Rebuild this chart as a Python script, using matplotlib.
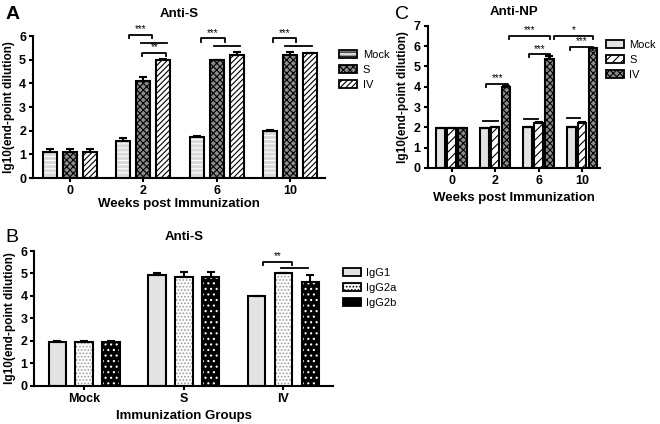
import matplotlib
matplotlib.use("Agg")
import matplotlib.pyplot as plt
from matplotlib.patches import Patch
import numpy as np

plt.rcParams['font.family'] = ['Liberation Sans', 'DejaVu Sans']
plt.rcParams['hatch.linewidth'] = 0.8

# ---- data ----
weeks = ["0", "2", "6", "10"]
a_mock = [1.1, 1.58, 1.75, 1.97]
a_mock_err = [0.12, 0.13, 0.03, 0.04]
a_s = [1.1, 4.12, 5.0, 5.22]
a_s_err = [0.12, 0.15, 0.0, 0.1]
a_iv = [1.1, 4.98, 5.22, 5.3]
a_iv_err = [0.12, 0.03, 0.1, 0.0]

c_mock = [1.95, 1.95, 2.0, 2.0]
c_mock_err = [0.02, 0.02, 0.02, 0.02]
c_s = [1.95, 2.0, 2.22, 2.22]
c_s_err = [0.02, 0.02, 0.06, 0.05]
c_iv = [1.95, 4.0, 5.35, 5.9]
c_iv_err = [0.02, 0.02, 0.15, 0.02]

groups_b = ["Mock", "S", "IV"]
b_igg1 = [1.95, 4.92, 4.0]
b_igg1_err = [0.06, 0.1, 0.0]
b_igg2a = [1.95, 4.85, 5.0]
b_igg2a_err = [0.05, 0.22, 0.0]
b_igg2b = [1.95, 4.85, 4.6]
b_igg2b_err = [0.05, 0.22, 0.35]

fig = plt.figure(figsize=(6.6, 4.24), dpi=100)
axA = fig.add_axes([0.05, 0.58, 0.442, 0.335])
axC = fig.add_axes([0.648, 0.604, 0.261, 0.335])
axB = fig.add_axes([0.052, 0.09, 0.453, 0.318])


def style(ax, ymax, labels, xlim):
    ax.set_ylim(0, ymax)
    ax.set_xlim(*xlim)
    ax.set_yticks(range(ymax + 1))
    ax.set_xticks(range(len(labels)))
    ax.set_xticklabels(labels)
    for s in ['top', 'right']:
        ax.spines[s].set_visible(False)
    ax.spines['left'].set_linewidth(1.5)
    ax.spines['bottom'].set_linewidth(1.5)
    ax.tick_params(width=1.5, length=3, labelsize=9, pad=2)
    for t in ax.get_xticklabels() + ax.get_yticklabels():
        t.set_fontweight('bold')
    ax.set_ylabel("lg10(end-point dilution)", fontsize=8.5, fontweight='bold', labelpad=3)


def bars(ax, x, vals, errs, fc, hatch, hcolor='black', w=0.19):
    if hcolor != 'black':
        ax.bar(x, vals, w, color=fc, edgecolor=hcolor, hatch=hatch, linewidth=0, zorder=2)
        ax.bar(x, vals, w, color='none', edgecolor='black', linewidth=1.5, zorder=3)
    else:
        ax.bar(x, vals, w, color=fc, edgecolor='black', hatch=hatch, linewidth=1.5, zorder=2)
    ax.errorbar(x, vals, yerr=[np.zeros(len(vals)), errs], fmt='none', ecolor='black',
                elinewidth=1.5, capsize=3, capthick=1.5, zorder=4)


def bracket(ax, x1, x2, y, text=None, tick=0.15):
    if text is None:
        ax.plot([x1, x2], [y, y], color='black', lw=1.3, clip_on=False)
    else:
        ax.plot([x1, x1, x2, x2], [y - tick, y, y, y - tick], color='black', lw=1.3, clip_on=False)
        ax.text((x1 + x2) / 2, y + 0.03, text, ha='center', va='bottom', fontsize=7)


def legend(ax, handles, labels, x, y):
    leg = ax.legend(handles, labels, loc='upper left', bbox_to_anchor=(x, y),
                    frameon=False, fontsize=8, handlelength=1.6, handleheight=0.75,
                    handletextpad=0.5, labelspacing=0.45, borderpad=0, borderaxespad=0)
    for p in leg.get_patches():
        p.set_edgecolor('black')
        p.set_linewidth(1.3)
    return leg


# ---- panel A ----
x = np.arange(4)
d = 0.27
bars(axA, x - d, a_mock, a_mock_err, '#d9d9d9', '----', 'white')
bars(axA, x, a_s, a_s_err, '#8c8c8c', 'xxxxx')
bars(axA, x + d, a_iv, a_iv_err, 'white', '//////')
style(axA, 6, weeks, (-0.5, 3.47))
axA.set_xlabel("Weeks post Immunization", fontsize=9.5, fontweight='bold', labelpad=1)
axA.set_title("Anti-S", fontsize=9.5, fontweight='bold', pad=14)
bracket(axA, 1 - 0.2, 1 + 0.12, 6.05, '***')
bracket(axA, 1 - 0.03, 1 + 0.32, 5.7)
bracket(axA, 1 - 0.01, 1 + 0.31, 5.3, '**')
bracket(axA, 2 - 0.22, 2 + 0.11, 5.9, '***')
bracket(axA, 2 - 0.04, 2 + 0.32, 5.58)
bracket(axA, 3 - 0.24, 3 + 0.08, 5.9, '***')
bracket(axA, 3 - 0.07, 3 + 0.3, 5.6)
hA = [Patch(facecolor='#d9d9d9', edgecolor='white', hatch='----'),
      Patch(facecolor='#8c8c8c', edgecolor='black', hatch='xxxxx'),
      Patch(facecolor='white', edgecolor='black', hatch='//////')]
legend(axA, hA, ["Mock", "S", "IV"], 1.05, 0.9)

# ---- panel C ----
dc = 0.25
bars(axC, x - dc, c_mock, c_mock_err, '#e3e3e3', None, w=0.2)
bars(axC, x, c_s, c_s_err, 'white', '////', w=0.2)
bars(axC, x + dc, c_iv, c_iv_err, '#8c8c8c', 'xxxxx', w=0.2)
style(axC, 7, weeks, (-0.55, 3.41))
axC.set_xlabel("Weeks post Immunization", fontsize=9.5, fontweight='bold', labelpad=4)
axC.set_title("Anti-NP", fontsize=9.5, fontweight='bold', pad=8)
bracket(axC, 1 - 0.28, 1 + 0.07, 2.3)
bracket(axC, 1 - 0.2, 1 + 0.3, 4.15, '***')
bracket(axC, 2 - 0.34, 2 - 0.02, 2.4)
bracket(axC, 2 - 0.23, 2 + 0.27, 5.6, '***')
bracket(axC, 1 + 0.32, 2 + 0.27, 6.5, '***')
bracket(axC, 3 - 0.34, 3 - 0.05, 2.45)
bracket(axC, 3 - 0.28, 3 + 0.25, 5.95, '***')
bracket(axC, 2 + 0.35, 3 + 0.25, 6.5, '*')
hC = [Patch(facecolor='#e3e3e3', edgecolor='black'),
      Patch(facecolor='white', edgecolor='black', hatch='////'),
      Patch(facecolor='#8c8c8c', edgecolor='black', hatch='xxxxx')]
legend(axC, hC, ["Mock", "S", "IV"], 1.035, 0.9)

# ---- panel B ----
xb = np.arange(3)
db = 0.27
bars(axB, xb - db, b_igg1, b_igg1_err, '#e3e3e3', None, w=0.175)
bars(axB, xb, b_igg2a, b_igg2a_err, 'white', '.....', '#9a9a9a', w=0.175)
bars(axB, xb + db, b_igg2b, b_igg2b_err, 'black', '...', 'white', w=0.175)
style(axB, 6, groups_b, (-0.5, 2.5))
axB.set_xlabel("Immunization Groups", fontsize=9.5, fontweight='bold', labelpad=4)
axB.set_title("Anti-S", fontsize=9.5, fontweight='bold', pad=8)
bracket(axB, 2 - 0.21, 2 + 0.09, 5.52, '**')
bracket(axB, 2 - 0.02, 2 + 0.25, 5.24)
hB = [Patch(facecolor='#e3e3e3', edgecolor='black'),
      Patch(facecolor='white', edgecolor='#9a9a9a', hatch='.....'),
      Patch(facecolor='black', edgecolor='white', hatch='...')]
legend(axB, hB, ["IgG1", "IgG2a", "IgG2b"], 1.033, 0.875)

# panel letters
fig.text(0.008, 0.985, "A", fontsize=14, fontweight='bold', va='top')
fig.text(0.598, 0.985, "C", fontsize=14, va='top')
fig.text(0.008, 0.46, "B", fontsize=14, va='top')

fig.savefig("out.png", dpi=100)
